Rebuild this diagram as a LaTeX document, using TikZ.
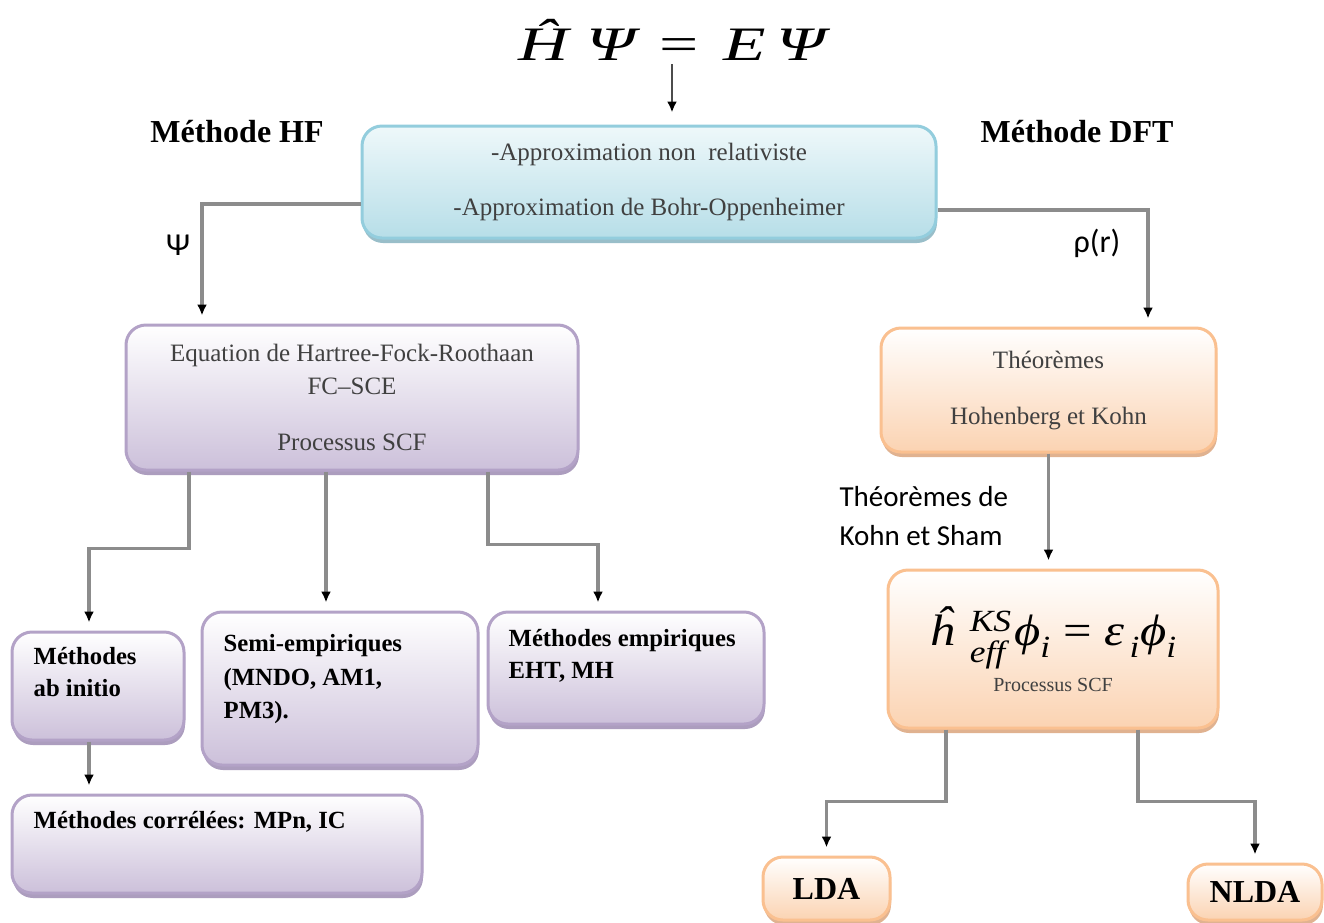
\documentclass[tikz,border=0pt]{standalone}
\usepackage{amsmath}
\usepackage{fontspec}
\setmainfont{Liberation Serif}
\newfontfamily\calibri{Carlito}
\usetikzlibrary{arrows.meta, shadows, positioning}

\definecolor{hfline}{HTML}{B3A2C7}
\definecolor{hffill}{HTML}{CCC0DA}
\definecolor{hfshade}{HTML}{A393B8}
\definecolor{dftline}{HTML}{FAC090}
\definecolor{dftfill}{HTML}{FBD3B2}
\definecolor{dftshade}{HTML}{DDAA85}
\definecolor{apline}{HTML}{93CDDD}
\definecolor{aptop}{HTML}{EEF8FA}
\definecolor{apfill}{HTML}{B7DEE8}
\definecolor{apshade}{HTML}{8FB8C4}
\definecolor{linkgray}{HTML}{8C8C8C}
\definecolor{boxtext}{HTML}{404040}

\newcommand{\boxfont}{\fontsize{25}{33}\selectfont}

\begin{document}
\begin{tikzpicture}[x=1pt,y=-1pt,
	box/.style={rounded corners=20pt,line width=3pt,inner sep=0pt,align=center,text=boxtext},
	hfbox/.style={box,draw=hfline,top color=white,bottom color=hffill,
		drop shadow={shadow xshift=1pt,shadow yshift=-5pt,fill=hfshade,opacity=.9}},
	dftbox/.style={box,draw=dftline,top color=white,bottom color=dftfill,
		drop shadow={shadow xshift=1pt,shadow yshift=-5pt,fill=dftshade,opacity=.9}},
	apbox/.style={box,draw=apline,top color=aptop,bottom color=apfill,
		drop shadow={shadow xshift=1pt,shadow yshift=-5pt,fill=apshade,opacity=.9}},
	boxtxt/.style={inner sep=0pt,anchor=north west,align=left,
		font=\fontsize{24.7}{32}\selectfont\bfseries},
	link/.style={draw=linkgray,line width=3.5pt,shorten >=8pt,
		-{Latex[black,length=11pt,width=10pt]}},
	title/.style={font=\fontsize{32}{32}\selectfont\bfseries},
	side/.style={font=\fontsize{29}{39}\selectfont\calibri,align=left}]

	\fill[white] (0,0) rectangle (1324,922);
	\useasboundingbox (0,0) rectangle (1324,922);

	% equation and hypotheses
	\node (eq) at (672,40) {\fontsize{48}{48}\selectfont\scalebox{1.45}[1]{\itshape \^H\hspace{.25em}Ψ\hspace{.35em}{\upshape =}\hspace{.35em}E\hspace{.15em}Ψ}};
	\node[apbox,minimum width=574pt,minimum height=112pt,font=\fontsize{25}{55}\selectfont] (approx) at (649,182)
		{-Approximation non\ \ relativiste\\-Approximation de Bohr-Oppenheimer};
	\node[title] (hftitle) at (237,132) {Méthode HF};
	\node[title] (dfttitle) at (1077,132) {Méthode DFT};

	% HF side
	\node[hfbox,minimum width=452pt,minimum height=145pt,font=\boxfont] (hf) at (352,397.5)
		{Equation de Hartree-Fock-Roothaan\\FC–SCE\\[23pt]Processus SCF};
	\node[hfbox,minimum width=172pt,minimum height=108pt] (abinitio) at (98,686) {};
	\node[hfbox,minimum width=276pt,minimum height=153pt] (semi) at (340,688.5) {};
	\node[hfbox,minimum width=276pt,minimum height=112pt] (empir) at (626,668) {};
	\node[hfbox,minimum width=410pt,minimum height=98pt] (correl) at (217,844) {};
	\node[boxtxt] (abinitio-txt) at ([xshift=23pt,yshift=-17pt]abinitio.north west) {Méthodes\\ab initio};
	\node[boxtxt,font=\fontsize{24.7}{33.5}\selectfont\bfseries] (semi-txt) at ([xshift=23pt,yshift=-24pt]semi.north west) {Semi-empiriques\\(MNDO, AM1,\\PM3).};
	\node[boxtxt] (empir-txt) at ([xshift=22pt,yshift=-19pt]empir.north west) {Méthodes empiriques\\EHT, MH};
	\node[boxtxt] (correl-txt) at ([xshift=23pt,yshift=-18pt]correl.north west) {Méthodes corrélées: MPn, IC};

	% DFT side
	\node[dftbox,minimum width=335pt,minimum height=124pt,font=\fontsize{25}{56}\selectfont] (hk) at (1048.5,390)
		{Théorèmes\\Hohenberg et Kohn};
	\node[dftbox,minimum width=330pt,minimum height=158pt] (ks) at (1053,649)
		{\fontsize{44}{44}\selectfont\color{black}\scalebox{1.15}[1]{{\itshape\^h}\hspace{.3em}$^{\text{\raisebox{5pt}{\itshape KS}}}_{\text{\itshape eff}}$\hspace{.05em}{\itshape ϕ}$_{\text{\itshape i}}$ = {\itshape ε}\hspace{.1em}$_{\text{\itshape i}}${\itshape ϕ}$_{\text{\itshape i}}$}\\[8pt]
		{\fontsize{20}{22}\selectfont Processus SCF}};
	\node[dftbox,minimum width=127pt,minimum height=63pt,text=black,font=\fontsize{32}{32}\selectfont\bfseries] (lda) at (826.5,888.5) {LDA};
	\node[dftbox,minimum width=134pt,minimum height=56pt,text=black,font=\fontsize{32}{32}\selectfont\bfseries] (nlda) at (1255,892) {NLDA};

	\node[side,anchor=west] (kslabel) at (836,516) {Théorèmes de\\Kohn et Sham};
	\node[font=\fontsize{32}{32}\selectfont\calibri] (psi) at (178,245) {Ψ};
	\node[font=\fontsize{32}{32}\selectfont\calibri] (rho) at (1097,243) {ρ(r)};

	% connectors
	\draw[line width=2.5pt,draw=black!70,shorten >=12pt,-{Latex[black,length=11pt,width=10pt]}] (eq) -- (eq |- approx.north);
	\draw[link] ([yshift=-22pt]approx.west) -| ([xshift=-150pt]hf.north);
	\draw[link] ([yshift=-28pt]approx.east) -| ([xshift=99.5pt]hk.north);
	\draw[link] ([xshift=-163pt]hf.south) -- ++(0,77) -| ([xshift=-9pt]abinitio.north);
	\draw[link] ([xshift=-26pt]hf.south) -- ([xshift=-14pt]semi.north);
	\draw[link] ([xshift=136pt]hf.south) -- ++(0,73) -| ([xshift=-28pt]empir.north);
	\draw[link] ([xshift=-9pt]abinitio.south) -- ([xshift=-128pt]correl.north);
	\draw[link] (hk.south) -- (hk.south |- ks.north);
	\draw[link] ([xshift=-107pt]ks.south) -- ++(0,72) -| (lda.north);
	\draw[link] ([xshift=85pt]ks.south) -- ++(0,72) -| (nlda.north);
\end{tikzpicture}
\end{document}
